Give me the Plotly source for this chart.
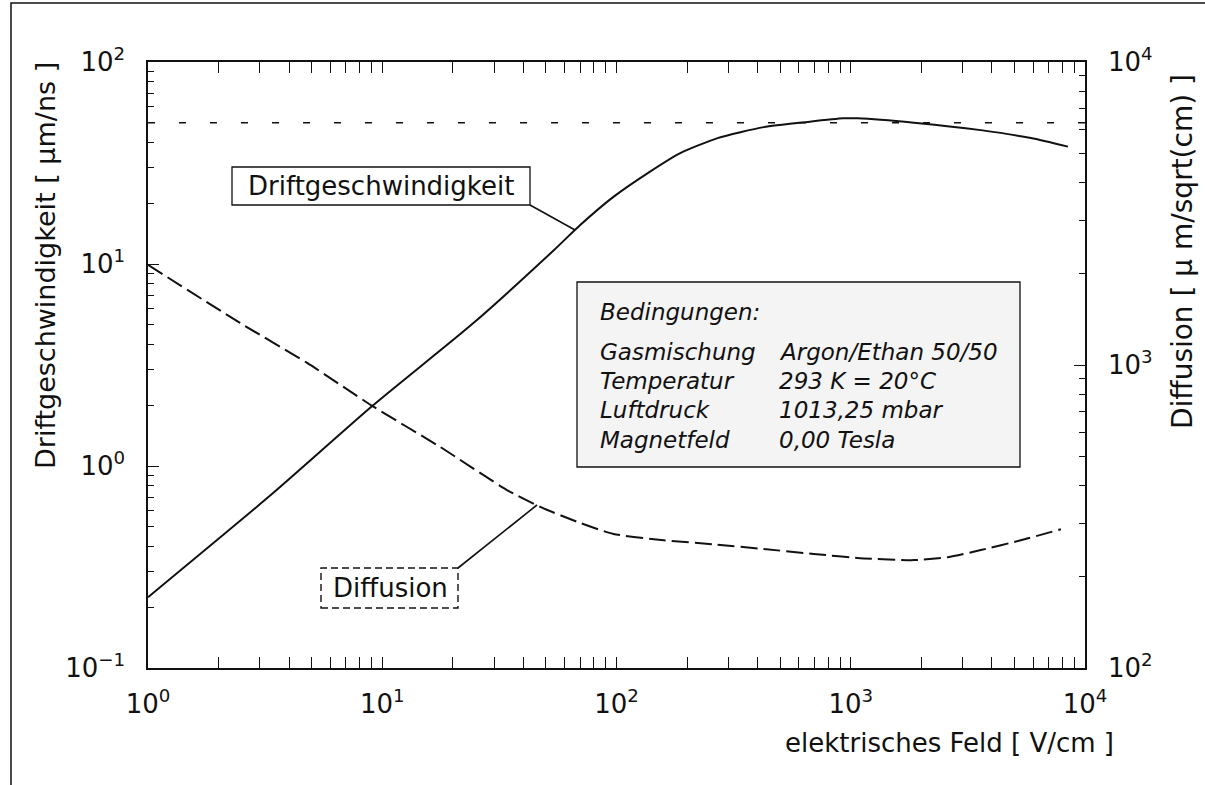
import plotly.graph_objects as go

# ---------------- data ----------------
E_drift = [1, 3.4, 9.06, 24.5, 54, 70, 97, 136, 188, 270, 425, 655, 930, 1070, 1860, 3590, 5880, 8460]
v_drift = [0.224, 0.73, 1.98, 5.1, 11.7, 15.6, 21.5, 28.2, 35.5, 42, 47.6, 50.5, 52.6, 52.6, 50.1, 46, 42, 38.1]

E_diff = [1, 2.47, 4.78, 9.06, 17.7, 34.2, 47.3, 70, 97, 159, 260, 425, 694, 1137, 1860, 2595, 3590, 5320, 7890]
D_diff = [2140, 1377, 1016, 733, 536, 386, 340, 301, 277, 264, 256, 247, 238, 230, 227, 232, 245, 264, 287]

ref_E = [1, 10000]
ref_v = [50, 50]

x_ticks = [1, 10, 100, 1000, 10000]
x_ticktext = ["10<sup>0</sup>", "10<sup>1</sup>", "10<sup>2</sup>", "10<sup>3</sup>", "10<sup>4</sup>"]
yl_ticks = [0.1, 1, 10, 100]
yl_ticktext = ["10<sup>−1</sup>", "10<sup>0</sup>", "10<sup>1</sup>", "10<sup>2</sup>"]
yr_ticks = [100, 1000, 10000]
yr_ticktext = ["10<sup>2</sup>", "10<sup>3</sup>", "10<sup>4</sup>"]

cond_labels = ["Gasmischung", "Temperatur", "Luftdruck", "Magnetfeld"]
cond_values = ["Argon/Ethan 50/50", "293 K = 20°C", "1013,25 mbar", "0,00 Tesla"]

# ---------------- layout geometry ----------------
W, H = 1205, 785
L, R, T, B = 148, 1085, 62, 668


def px(p):
    return (p - L) / (R - L)


def py(p):
    return (B - p) / (B - T)


def minor_vals(lo, hi):
    out = []
    d = lo
    while d < hi:
        for k in range(2, 10):
            out.append(k * d)
        d *= 10
    return out


FONT = "DejaVu Sans, Arial, sans-serif"
BLACK = "#111111"

fig = go.Figure()
fig.add_trace(go.Scatter(x=E_drift, y=v_drift, mode="lines",
                         line=dict(color=BLACK, width=2, shape="spline", smoothing=0.6),
                         showlegend=False, hoverinfo="skip"))
fig.add_trace(go.Scatter(x=ref_E, y=ref_v, mode="lines",
                         line=dict(color=BLACK, width=1.6, dash="7px,24px"),
                         showlegend=False, hoverinfo="skip"))
fig.add_trace(go.Scatter(x=E_diff, y=D_diff, mode="lines", yaxis="y2",
                         line=dict(color=BLACK, width=2, dash="17px,6px", shape="spline", smoothing=0.6),
                         showlegend=False, hoverinfo="skip"))

axis_common = dict(type="log", showgrid=False, zeroline=False, showline=True,
                   linecolor=BLACK, linewidth=1.5, ticks="inside", tickcolor=BLACK,
                   tickwidth=1.3, ticklen=11, tickmode="array",
                   tickfont=dict(family=FONT, size=26, color=BLACK))

fig.update_layout(
    width=W, height=H, autosize=False,
    margin=dict(l=L, r=W - R, t=T, b=H - B),
    paper_bgcolor="white", plot_bgcolor="white",
    font=dict(family=FONT, size=26, color=BLACK),
    xaxis=dict(**axis_common, range=[0, 4], tickvals=x_ticks, ticktext=x_ticktext,
               mirror="allticks", ticklabelstandoff=12,
               minor=dict(tickmode="array", tickvals=minor_vals(1, 10000), ticks="inside",
                          ticklen=6, tickwidth=1.2, tickcolor=BLACK, showgrid=False)),
    yaxis=dict(**axis_common, range=[-1, 2], tickvals=yl_ticks, ticktext=yl_ticktext,
               ticklabelstandoff=16,
               minor=dict(tickmode="array", tickvals=minor_vals(0.1, 100), ticks="inside",
                          ticklen=6, tickwidth=1.2, tickcolor=BLACK, showgrid=False)),
    yaxis2=dict(**axis_common, range=[2, 4], tickvals=yr_ticks, ticktext=yr_ticktext,
                overlaying="y", side="right", ticklabelstandoff=16,
                minor=dict(tickmode="array", tickvals=minor_vals(100, 10000), ticks="inside",
                           ticklen=6, tickwidth=1.2, tickcolor=BLACK, showgrid=False)),
)

shapes = []
# outer scan frame (only left and top edges fall inside the page)
shapes.append(dict(type="rect", xref="paper", yref="paper", x0=px(11), x1=px(1230), y0=py(810), y1=py(3),
                   fillcolor="rgba(0,0,0,0)", line=dict(color=BLACK, width=1.5), layer="below"))
# Driftgeschwindigkeit label box + callout
shapes.append(dict(type="rect", xref="paper", yref="paper", x0=px(232), x1=px(530), y0=py(205), y1=py(167),
                   fillcolor="white", line=dict(color=BLACK, width=1.3)))
shapes.append(dict(type="line", xref="paper", yref="paper", x0=px(530), x1=px(575), y0=py(205), y1=py(230),
                   line=dict(color=BLACK, width=1.6)))
# Diffusion label box (dashed) + callout
shapes.append(dict(type="rect", xref="paper", yref="paper", x0=px(321), x1=px(458), y0=py(608), y1=py(568),
                   fillcolor="white", line=dict(color=BLACK, width=1.4, dash="7px,4px")))
shapes.append(dict(type="line", xref="paper", yref="paper", x0=px(458), x1=px(537), y0=py(568), y1=py(505),
                   line=dict(color=BLACK, width=1.6)))
# conditions box
shapes.append(dict(type="rect", xref="paper", yref="paper", x0=px(577), x1=px(1020), y0=py(467), y1=py(282),
                   fillcolor="#f4f4f4", line=dict(color=BLACK, width=1.3)))

annotations = []


def txt(x, y, s, size=26, xanchor="center", angle=0):
    annotations.append(dict(xref="paper", yref="paper", x=px(x), y=py(y), text=s, showarrow=False,
                            xanchor=xanchor, yanchor="middle", textangle=angle,
                            font=dict(family=FONT, size=size, color=BLACK)))


txt(381, 186, "Driftgeschwindigkeit", 26)
txt(390, 588, "Diffusion", 26)
txt(598, 312, "<i>Bedingungen:</i>", 23, xanchor="left")
row_y = [352, 381, 410, 440]
for lab, val, yy in zip(cond_labels, cond_values, row_y):
    txt(598, yy, "<i>" + lab + "</i>", 23, xanchor="left")
    txt(777, yy, "<i>" + val + "</i>", 23, xanchor="left")

# axis titles
txt(45, 266, "Driftgeschwindigkeit [ µm/ns ]", 27, angle=-90)
txt(1182, 252, "Diffusion [ µ m/sqrt(cm) ]", 28, angle=-90)
annotations.append(dict(xref="paper", yref="paper", x=px(1116), y=py(743),
                        text="elektrisches Feld [ V/cm ]", showarrow=False,
                        xanchor="right", yanchor="middle",
                        font=dict(family=FONT, size=26, color=BLACK)))

fig.update_layout(shapes=shapes, annotations=annotations)
fig.write_html("out.html", config={"displayModeBar": False})
